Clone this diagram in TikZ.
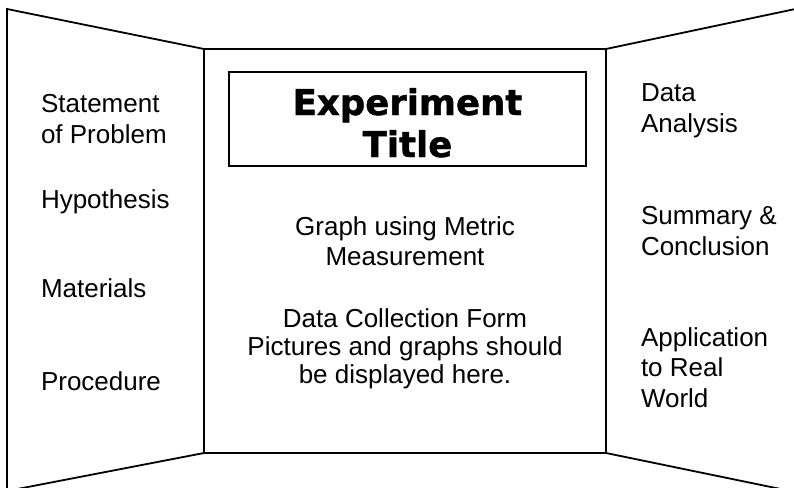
\documentclass[tikz,border=0pt]{standalone}
\usepackage{fontspec}
\setmainfont{Liberation Sans}
\newfontfamily\titlefont{DejaVu Sans}[BoldFeatures={FakeBold=1.3}]
\begin{document}
\begin{tikzpicture}[x=1pt,y=-1pt,
  board/.style={line width=1.8pt,line join=miter},
  lbl/.style={inner sep=0pt,outer sep=0pt,anchor=base west,align=left,
    font=\fontsize{26}{30.5}\selectfont},
  ctr/.style={inner sep=0pt,outer sep=0pt,anchor=base,align=center},
  titlebox/.style={draw,line width=1.8pt,minimum width=357pt,minimum height=94pt,
    inner sep=0pt},
  titletxt/.style={inner sep=0pt,align=center,anchor=base,
    font=\titlefont\bfseries\fontsize{35.5}{42}\selectfont}]
\useasboundingbox (0,0) rectangle (794,487);
\clip (0,0) rectangle (794,487);
% board corners
\coordinate (ltl) at (7,9);
\coordinate (lbl) at (7,491);
\coordinate (ctl) at (204,49);
\coordinate (ctr) at (606,49);
\coordinate (cbl) at (204,453);
\coordinate (cbr) at (606,453);
\coordinate (rtr) at (800,8);
\coordinate (rbr) at (800,493);
% centre panel
\draw[board] (ctl) rectangle (cbr);
% left wing
\draw[board] (ctl) -- (ltl) -- (lbl) -- (cbl);
% right wing
\draw[board] (ctr) -- (rtr);
\draw[board] (cbr) -- (rbr);
% title frame and its two-line text
\node[titlebox] (title) at (407.5,119) {};
\node[titletxt] (titletext) at (407.5,157) {Experiment\\Title};
% left wing labels (anchored on the last line's baseline)
\node[lbl] (problem) at (41,143) {Statement\\of Problem};
\node[lbl] (hypo) at (41,208) {Hypothesis};
\node[lbl] (mat) at (41,297) {Materials};
\node[lbl] (proc) at (41,390) {Procedure};
% centre labels
\node[ctr,font=\fontsize{26}{30}\selectfont] (graph) at (405,265) {Graph using Metric\\Measurement};
\node[ctr,font=\fontsize{26}{28}\selectfont] (form) at (405,383) {Data Collection Form\\Pictures and graphs should\\be displayed here.};
% right wing labels
\node[lbl] (analysis) at (641,132) {Data\\Analysis};
\node[lbl] (summary) at (641,255) {Summary \&\\Conclusion};
\node[lbl] (world) at (641,407) {Application\\to Real\\World};
\end{tikzpicture}
\end{document}
